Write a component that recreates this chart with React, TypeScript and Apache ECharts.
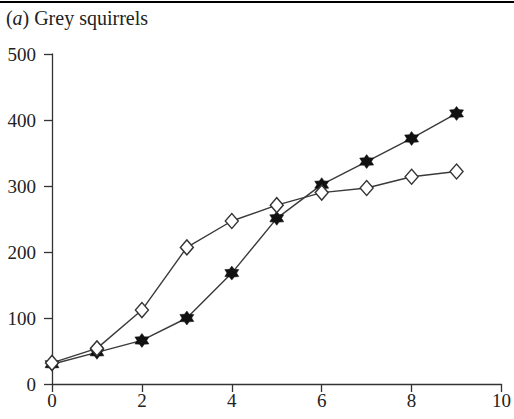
import React, { useEffect, useRef } from "react";
import * as echarts from "echarts";

const days = [0, 1, 2, 3, 4, 5, 6, 7, 8, 9];
const filledSeries = [30, 48, 66, 100, 168, 251, 302, 337, 372, 410];
const openSeries = [32, 54, 112, 207, 247, 271, 290, 297, 314, 322];

const starPath =
  "path://M10,0 L13,4.6 L18.66,5 L16,10 L18.66,15 L13,15.4 L10,20 L7,15.4 L1.34,15 L4,10 L1.34,5 L7,4.6 Z";

const FONT = "Liberation Serif";

export default function App() {
  const ref = useRef<HTMLDivElement>(null);
  useEffect(() => {
    if (!ref.current) return;
    const chart = echarts.init(ref.current, null, { renderer: "svg" });
    chart.setOption({
      animation: false,
      backgroundColor: "#fff",
      textStyle: { fontFamily: FONT },
      grid: { left: 52, right: 11, top: 54, bottom: 35, containLabel: false },
      graphic: [
        {
          type: "line",
          shape: { x1: 0, y1: 2, x2: 514, y2: 2 },
          style: { stroke: "#000", lineWidth: 2 },
        },
        {
          type: "text",
          x: 6,
          y: 18,
          style: {
            text: "(",
            fontFamily: FONT,
            fontSize: 20,
            fill: "#222",
            verticalAlign: "middle",
          },
        },
        {
          type: "text",
          x: 12.5,
          y: 18,
          style: {
            text: "a",
            fontFamily: FONT,
            fontSize: 20,
            fontStyle: "italic",
            fill: "#222",
            verticalAlign: "middle",
          },
        },
        {
          type: "text",
          x: 22.5,
          y: 18,
          style: {
            text: ") Grey squirrels",
            fontFamily: FONT,
            fontSize: 20,
            fill: "#222",
            verticalAlign: "middle",
          },
        },
      ],
      xAxis: {
        type: "value",
        min: 0,
        max: 10,
        interval: 2,
        splitLine: { show: false },
        axisLine: { onZero: false, lineStyle: { color: "#333", width: 1.3 } },
        axisTick: { length: 8, lineStyle: { color: "#333", width: 1.3 } },
        axisLabel: { color: "#222", fontSize: 19, fontFamily: FONT, margin: 7 },
      },
      yAxis: {
        type: "value",
        min: 0,
        max: 500,
        interval: 100,
        splitLine: { show: false },
        axisLine: { show: true, onZero: false, lineStyle: { color: "#333", width: 1.3 } },
        axisTick: { show: true, length: 8, lineStyle: { color: "#333", width: 1.3 } },
        axisLabel: { color: "#222", fontSize: 19, fontFamily: FONT, margin: 16 },
      },
      series: [
        {
          name: "filled",
          type: "line",
          data: days.map((d, i) => [d, filledSeries[i]]),
          symbol: starPath,
          symbolSize: 14,
          itemStyle: { color: "#111", borderColor: "#111", borderWidth: 0.5 },
          lineStyle: { color: "#3a3a3a", width: 1.4 },
          z: 3,
        },
        {
          name: "open",
          type: "line",
          data: days.map((d, i) => [d, openSeries[i]]),
          symbol: "diamond",
          symbolSize: [13, 15],
          itemStyle: { color: "#fff", borderColor: "#333", borderWidth: 1.4 },
          lineStyle: { color: "#3a3a3a", width: 1.4 },
          z: 4,
        },
      ],
    });
    return () => chart.dispose();
  }, []);
  return (
    <div
      ref={ref}
      style={{ position: "fixed", left: 0, top: 0, width: 514, height: 419 }}
    />
  );
}
